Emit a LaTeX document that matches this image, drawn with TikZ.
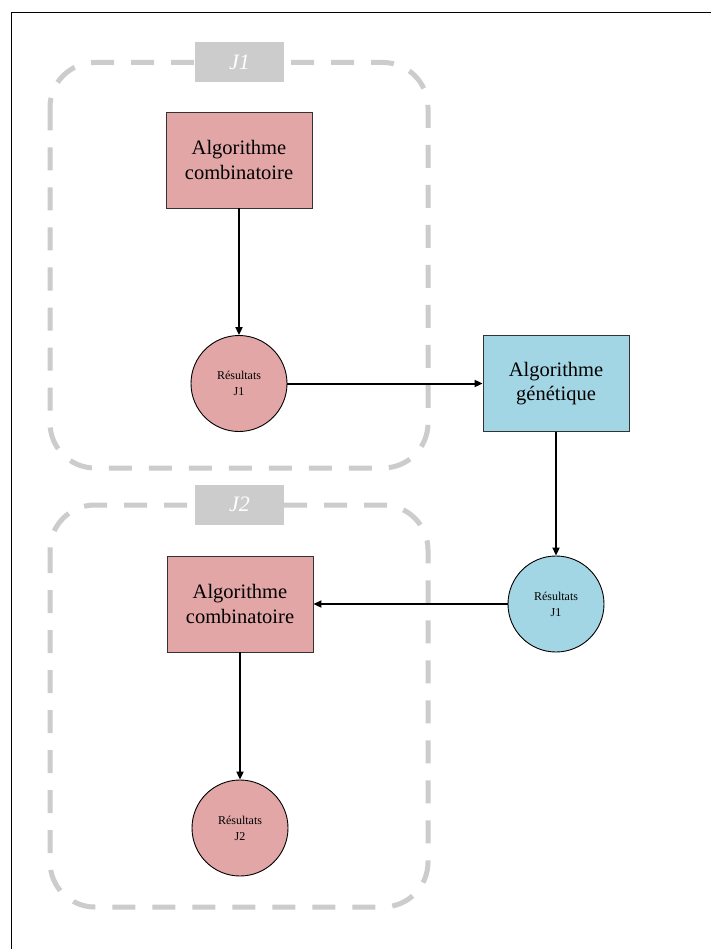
\documentclass[tikz,border=0pt]{standalone}
\usepackage{fontspec}
\setmainfont{Liberation Serif}
\usetikzlibrary{arrows.meta}
\definecolor{pinkfill}{RGB}{227,166,166}
\definecolor{bluefill}{RGB}{163,214,228}
\definecolor{grp}{RGB}{204,204,204}
\begin{document}
\begin{tikzpicture}[x=1pt,y=-1pt,
 algbox/.style={draw=black!80, line width=0.9pt, minimum width=146pt, minimum height=96pt, inner sep=0pt, align=center, font=\fontsize{20.5}{24.5}\selectfont},
 rescircle/.style={circle, draw=black, line width=0.9pt, minimum size=96pt, inner sep=0pt, align=center, font=\fontsize{12}{16}\selectfont},
 grpbox/.style={draw=grp, line width=5pt, dash pattern=on 23pt off 17pt, rounded corners=45pt},
 grplabel/.style={fill=grp, minimum width=89pt, minimum height=40pt, inner sep=0pt, text=white, font=\fontsize{22}{26}\selectfont\itshape},
 flow/.style={-{Triangle[length=8pt,width=7pt]}, line width=2pt}]
\useasboundingbox (0,0) rectangle (711,949);
\fill[white] (0,0) rectangle (711,949);
\draw[line width=1.8pt] (11.5,970) -- (11.5,12.5) -- (730,12.5);

% groups
\draw[grpbox] (50,62.5) rectangle (428,468);
\draw[grpbox] (50,505) rectangle (428,907);
\node[grplabel] (l1) at (239.5,62.5) {J1};
\node[grplabel] (l2) at (239.5,504.5) {J2};

% nodes
\node[algbox, fill=pinkfill] (a1) at (239,160) {Algorithme\\combinatoire};
\node[rescircle, fill=pinkfill] (r1) at (239,383.5) {Résultats\\J1};
\node[algbox, fill=bluefill] (g) at (556,383.5) {Algorithme\\génétique};
\node[rescircle, fill=bluefill] (r2) at (556,604) {Résultats\\J1};
\node[algbox, fill=pinkfill] (a2) at (240,604) {Algorithme\\combinatoire};
\node[rescircle, fill=pinkfill] (r3) at (240,828) {Résultats\\J2};

% connectors
\draw[flow] (a1) -- (r1);
\draw[flow] (r1) -- (g);
\draw[flow] (g) -- (r2);
\draw[flow] (r2) -- (a2);
\draw[flow] (a2) -- (r3);
\end{tikzpicture}
\end{document}
